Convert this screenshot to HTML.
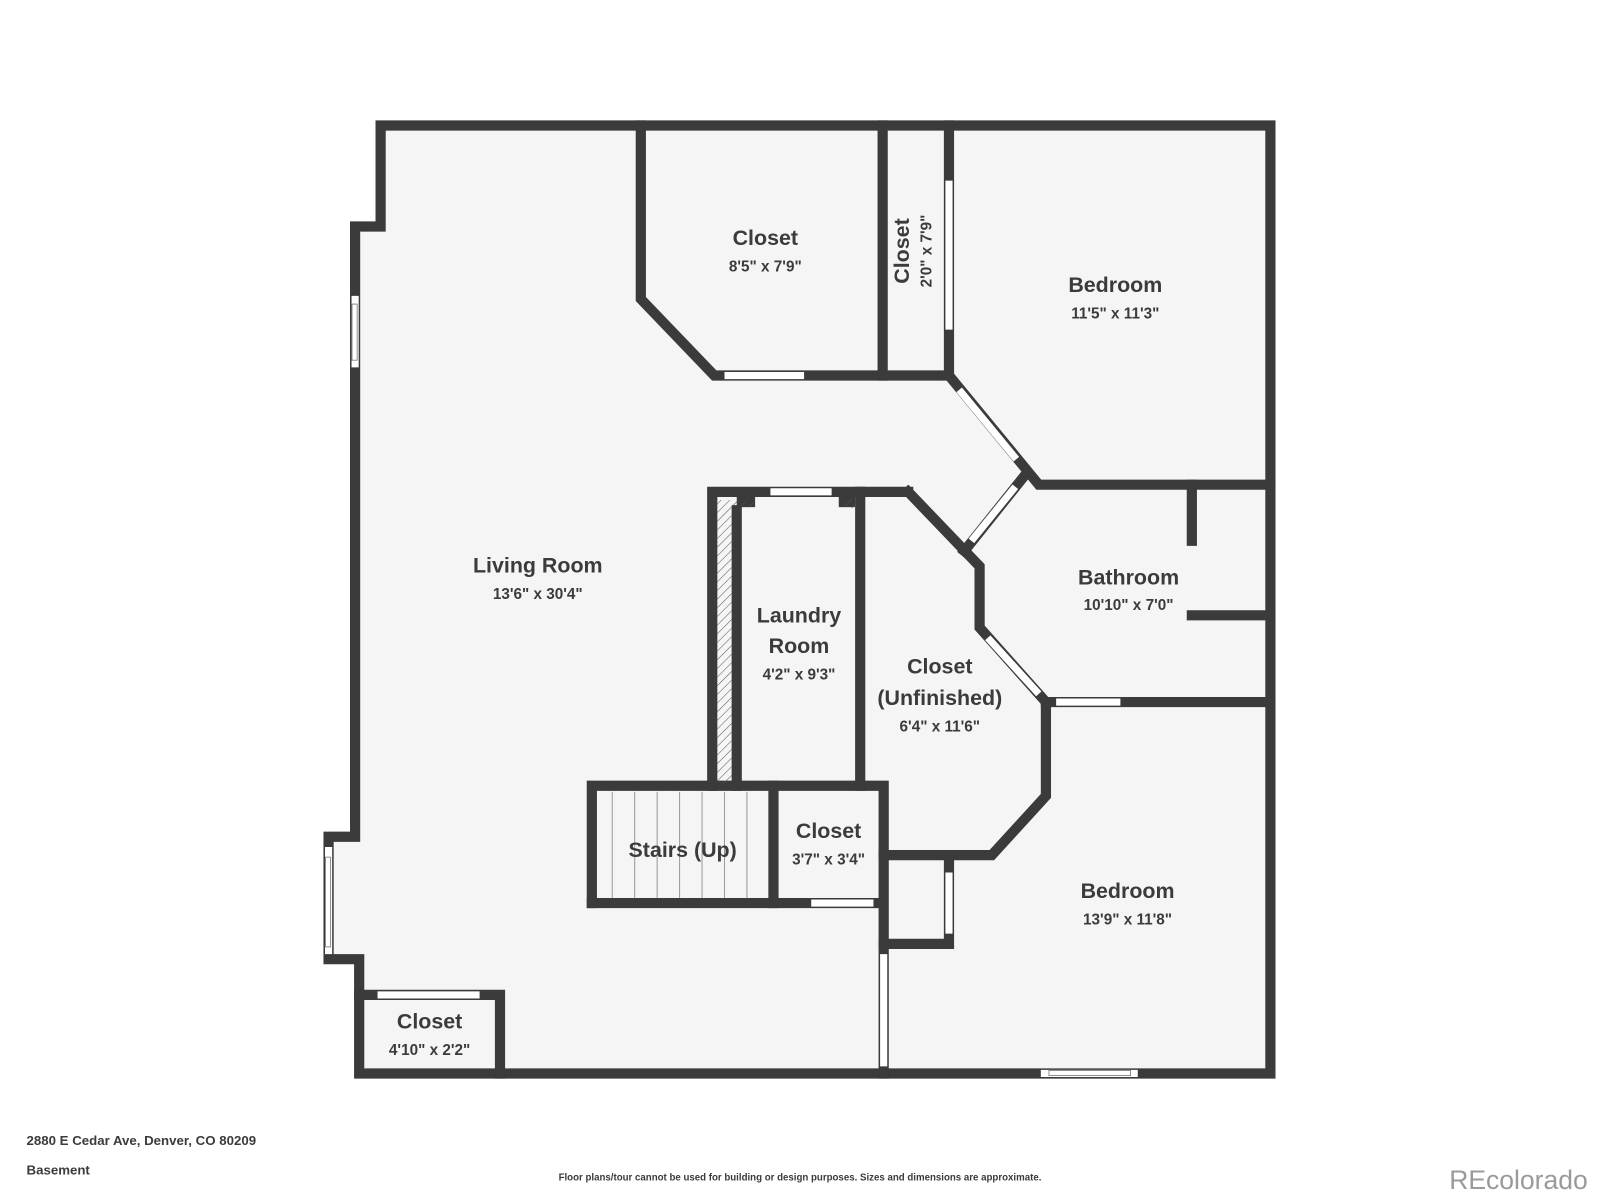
<!DOCTYPE html>
<html><head><meta charset="utf-8"><style>
html,body{margin:0;padding:0;background:#fff;}
svg{display:block;}
text{font-family:"Liberation Sans",sans-serif;fill:#3b3b3b;}
.t{font-size:21px;font-weight:bold;}
.d{font-size:15px;font-weight:bold;}
</style></head><body>
<svg width="1600" height="1200" viewBox="0 0 1568 1176" preserveAspectRatio="none" xmlns="http://www.w3.org/2000/svg">
<defs><pattern id="h" width="6" height="6" patternUnits="userSpaceOnUse" patternTransform="rotate(45)"><line x1="0" y1="0" x2="0" y2="6" stroke="#555" stroke-width="1"/></pattern></defs>
<rect width="1568" height="1176" fill="#fff"/>
<polygon points="373,123 1245,123 1245,1052 352,1052 352,940 322,940 322,820 348,820 348,222 373,222" fill="#f5f5f5"/>
<g stroke="#3b3b3b" stroke-width="10" fill="none" stroke-linejoin="miter" stroke-linecap="square">
<polyline points="373,222 373,123 1245,123 1245,1052 352,1052 352,940 322,940 322,820 348,820 348,222 373,222"/>
<polyline points="352,975 490,975 490,1052"/>
<polyline points="628,123 628,293 700,368 865,368 865,123"/>
<polyline points="865,368 930,368 930,123"/>
<polyline points="930,368 1018,475 1245,475"/>
<line x1="1168" y1="475" x2="1168" y2="530"/>
<line x1="1168" y1="603" x2="1245" y2="603"/>
<line x1="1025" y1="688" x2="1245" y2="688"/>
<polyline points="1005,465 945,540"/>
<polyline points="890,482 960,555 960,615 1025,688 1025,780 972,838 866,838"/>
<polyline points="698,770 698,482 890,482"/>
<line x1="722" y1="500" x2="722" y2="770"/>
<line x1="843" y1="482" x2="843" y2="770"/>
<rect x="722" y="487" width="18" height="10" fill="#3b3b3b" stroke-width="0"/>
<rect x="822" y="487" width="16" height="10" fill="#3b3b3b" stroke-width="0"/>
<polyline points="580,885 580,770 866,770 866,1052"/>
<line x1="580" y1="885" x2="862" y2="885"/>
<line x1="758" y1="770" x2="758" y2="885"/>
<polyline points="866,925 930,925 930,843"/>
</g>
<rect x="703" y="490" width="14" height="278" fill="url(#h)"/>
<rect x="717" y="490" width="22" height="6" fill="url(#h)"/>
<rect x="827" y="490" width="11" height="8" fill="url(#h)"/>
<g stroke="#999" stroke-width="1">
<line x1="600" y1="776" x2="600" y2="880"/><line x1="622" y1="776" x2="622" y2="880"/><line x1="644" y1="776" x2="644" y2="880"/><line x1="666" y1="776" x2="666" y2="880"/><line x1="688" y1="776" x2="688" y2="880"/><line x1="710" y1="776" x2="710" y2="880"/><line x1="732" y1="776" x2="732" y2="880"/>
</g>
<g stroke="#fff" stroke-width="7" stroke-linecap="butt">
<line x1="348" y1="290" x2="348" y2="360"/>
<line x1="322" y1="830" x2="322" y2="935"/>
<line x1="370" y1="975" x2="470" y2="975"/>
<line x1="710" y1="368" x2="788" y2="368"/>
<line x1="930" y1="177" x2="930" y2="323"/>
<line x1="940" y1="382" x2="996" y2="450"/>
<line x1="995" y1="477" x2="952" y2="530"/>
<line x1="968" y1="625" x2="1018" y2="680"/>
<line x1="1035" y1="688" x2="1098" y2="688"/>
<line x1="755" y1="482" x2="815" y2="482"/>
<line x1="795" y1="885" x2="856" y2="885"/>
<line x1="866" y1="935" x2="866" y2="1045"/>
<line x1="930" y1="855" x2="930" y2="915"/>
<line x1="1020" y1="1052" x2="1115" y2="1052"/>
</g>
<g stroke="#777" stroke-width="0.8" fill="none">
<rect x="345" y="298" width="5" height="55"/>
<rect x="319" y="840" width="5" height="88"/>
<rect x="1028" y="1049" width="80" height="5"/>
</g>
<g text-anchor="middle">
<text class="t" x="750" y="240">Closet</text><text class="d" x="750" y="266">8'5" x 7'9"</text>
<text class="t" x="1093" y="286">Bedroom</text><text class="d" x="1093" y="312">11'5" x 11'3"</text>
<text class="t" transform="translate(891,246) rotate(-90)">Closet</text>
<text class="d" transform="translate(913,246) rotate(-90)">2'0" x 7'9"</text>
<text class="t" x="527" y="561">Living Room</text><text class="d" x="527" y="587">13'6" x 30'4"</text>
<text class="t" x="1106" y="573">Bathroom</text><text class="d" x="1106" y="598">10'10" x 7'0"</text>
<text class="t" x="783" y="610">Laundry</text><text class="t" x="783" y="640">Room</text><text class="d" x="783" y="666">4'2" x 9'3"</text>
<text class="t" x="921" y="660">Closet</text><text class="t" x="921" y="691">(Unfinished)</text><text class="d" x="921" y="717">6'4" x 11'6"</text>
<text class="t" x="812" y="821">Closet</text><text class="d" x="812" y="847">3'7" x 3'4"</text>
<text class="t" x="669" y="840">Stairs (Up)</text>
<text class="t" x="1105" y="880">Bedroom</text><text class="d" x="1105" y="906">13'9" x 11'8"</text>
<text class="t" x="421" y="1008">Closet</text><text class="d" x="421" y="1034">4'10" x 2'2"</text>
</g>
<text x="26" y="1122" font-size="13" font-weight="bold">2880 E Cedar Ave, Denver, CO 80209</text>
<text x="26" y="1151" font-size="13" font-weight="bold">Basement</text>
<text x="784" y="1157" font-size="9.5" font-weight="bold" text-anchor="middle">Floor plans/tour cannot be used for building or design purposes. Sizes and dimensions are approximate.</text>
<text x="1556" y="1165" font-size="26" text-anchor="end" style="fill:#9a9a9a">REcolorado</text>
</svg>
</body></html>
